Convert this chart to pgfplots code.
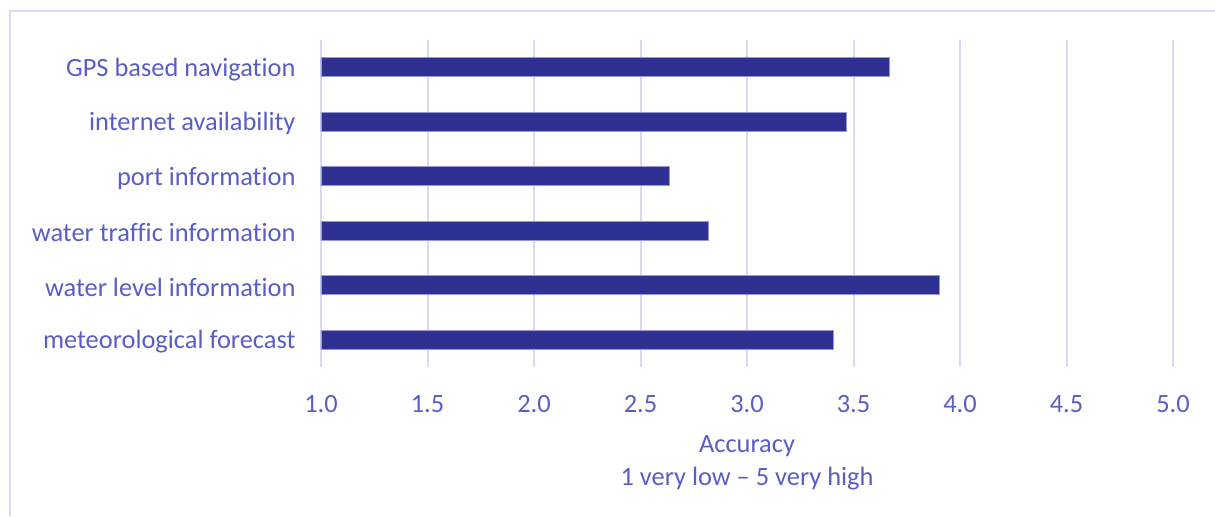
\documentclass[border=0pt]{standalone}
\usepackage{fontspec}
\setmainfont{Carlito}[Ligatures=NoCommon]
\usepackage{pgfplots}
\pgfplotsset{compat=1.18}

\definecolor{barblue}{RGB}{46,49,146}
\definecolor{baredge}{RGB}{150,152,215}
\definecolor{gridlav}{RGB}{217,217,243}
\definecolor{labelblue}{RGB}{89,94,199}

\begin{document}
\begin{tikzpicture}[x=1bp,y=1bp]
  % frame: canvas and the top/left rules of the chart area
  \useasboundingbox (-160.5,-74.5) rectangle (447,183.5);
  \draw[gridlav, line width=1.2bp] (-155.5,-74.5) -- (-155.5,178) -- (447,178);
  \begin{axis}[
    at={(0,0)}, anchor=south west,
    scale only axis,
    width=426bp, height=163.5bp,
    xbar, bar width=9.5bp,
    xmin=1, xmax=5,
    xtick={1,1.5,...,5},
    x tick label style={/pgf/number format/fixed, /pgf/number format/fixed zerofill, /pgf/number format/precision=1},
    /pgf/number format/assume math mode=true,
    ymin=-0.5, ymax=5.5,
    ytick={0,1,2,3,4,5},
    yticklabels={meteorological forecast, water level information, water traffic information, port information, internet availability, GPS based navigation},
    axis line style={draw=none},
    tick style={draw=none},
    xmajorgrids,
    major grid style={gridlav, line width=1bp},
    ticklabel style={text=labelblue, font=\fontsize{13.2bp}{16bp}\selectfont},
    yticklabel style={xshift=-5bp, yshift=-1bp},
    xticklabel style={yshift=-10.5bp},
    xlabel={Accuracy\\1 very low -- 5 very high},
    xlabel style={align=center, text=labelblue, font=\fontsize{13.2bp}{16.5bp}\selectfont, yshift=-4.5bp},
    clip=false,
  ]
    \addplot[fill=barblue, draw=baredge, line width=0.4bp] coordinates {
      (3.404,0) (3.905,1) (2.818,2) (2.637,3) (3.465,4) (3.670,5)
    };
  \end{axis}
\end{tikzpicture}
\end{document}
